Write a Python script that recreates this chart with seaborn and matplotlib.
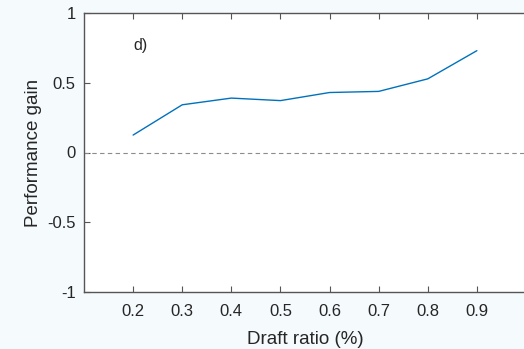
import matplotlib
matplotlib.use("Agg")
import matplotlib.pyplot as plt
import seaborn as sns
import pandas as pd

draft_ratio = [0.2, 0.3, 0.4, 0.5, 0.6, 0.7, 0.8, 0.9]
performance_gain = [0.125, 0.342, 0.39, 0.372, 0.43, 0.438, 0.528, 0.73]
x_ticks = [0.2, 0.3, 0.4, 0.5, 0.6, 0.7, 0.8, 0.9]
x_tick_labels = ["0.2", "0.3", "0.4", "0.5", "0.6", "0.7", "0.8", "0.9"]
y_ticks = [-1, -0.5, 0, 0.5, 1]
y_tick_labels = ["-1", "-0.5", "0", "0.5", "1"]

sns.set_theme(style="white")
plt.rcParams["font.family"] = ["Liberation Sans", "DejaVu Sans"]
plt.rcParams["axes.unicode_minus"] = False

df = pd.DataFrame({"Draft ratio (%)": draft_ratio, "Performance gain": performance_gain})

fig = plt.figure(figsize=(5.24, 3.49), dpi=100, facecolor="#f5fafd")
ax = fig.add_axes([84/524, 1 - 292/349, 442/524, (292 - 13)/349])
ax.set_facecolor("white")

ax.axhline(0, color="#8c8c8c", linestyle=(0, (4, 3)), linewidth=0.8, zorder=1)
sns.lineplot(data=df, x="Draft ratio (%)", y="Performance gain", ax=ax,
             color="#0072BD", linewidth=1.0, zorder=3)

ax.set_xlim(0.1, 1.0)
ax.set_ylim(-1, 1)
ax.set_xticks(x_ticks)
ax.set_xticklabels(x_tick_labels)
ax.set_yticks(y_ticks)
ax.set_yticklabels(y_tick_labels)

for side in ["left", "bottom", "top"]:
    ax.spines[side].set_visible(True)
    ax.spines[side].set_color("#555555")
    ax.spines[side].set_linewidth(1.0)
ax.spines["right"].set_visible(False)

ax.tick_params(axis="both", which="both", direction="in", length=4, width=0.8,
               color="#555555", labelsize=12, labelcolor="#262626")
ax.tick_params(axis="x", top=True, bottom=True, pad=9)
ax.tick_params(axis="y", left=True, right=False, pad=6)

ax.set_xlabel("Draft ratio (%)", fontsize=13.5, color="#262626", labelpad=8)
ax.set_ylabel("Performance gain", fontsize=13.5, color="#262626", labelpad=4)

ax.text(0.2, 0.77, "d)", fontsize=11.5, color="#262626", ha="left", va="center")

fig.savefig("out.png", dpi=100, facecolor=fig.get_facecolor())
